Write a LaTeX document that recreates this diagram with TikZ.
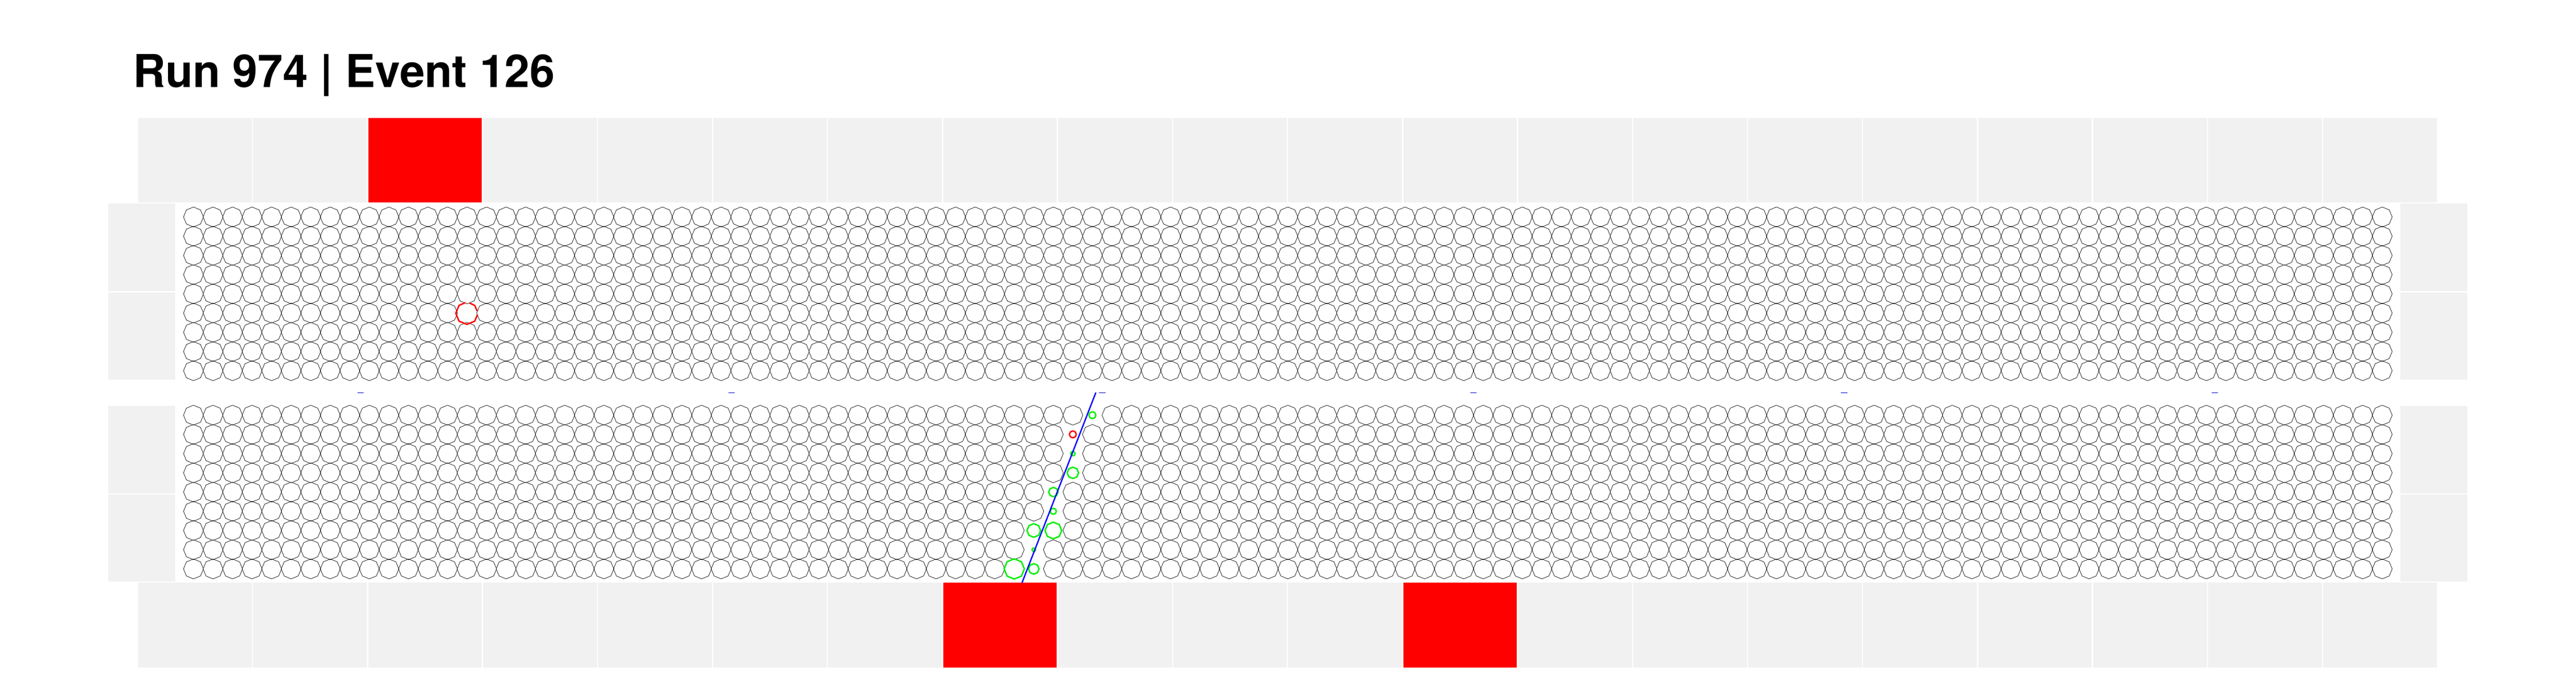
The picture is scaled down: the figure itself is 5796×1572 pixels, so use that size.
\documentclass[tikz,border=0pt]{standalone}
\usepackage{fontspec}
\setmainfont[FakeStretch=0.992]{TeX Gyre Heros}
\usepackage{xcolor}
\usepackage{tikz}
\definecolor{cellgrey}{HTML}{F1F1F1}
\definecolor{tickblue}{HTML}{0000CC}
\definecolor{litgreen}{HTML}{00F000}
\tikzset{
  ringline/.style={black, line width=0.85pt, line join=round},
  ringgreen/.style={color=litgreen, line width=3.2pt, line join=round},
  ringred/.style={red, line width=3.2pt, line join=round},
  cellfill/.style={fill=cellgrey},
  cellhit/.style={fill=red},
}
% one phototube ring: style, x, y, radius
\newcommand{\octring}[4][ringline]{%
  \draw[#1] (#2,#3) +(0:#4) -- +(45:#4) -- +(90:#4) -- +(135:#4)
    -- +(180:#4) -- +(225:#4) -- +(270:#4) -- +(315:#4) -- cycle;}
% one row of rings, leaving out two columns: y, skip, skip
\newcommand{\ringrow}[3]{%
  \foreach \col [evaluate=\col as \ringx using 435.3+43.97*\col] in {0,...,112}{%
    \ifnum\col=#2\relax\else\ifnum\col=#3\relax\else
      \octring{\ringx}{#1}{22.4}%
    \fi\fi}}

\begin{document}
\begin{tikzpicture}[x=1pt,y=-1pt]
  \useasboundingbox (0,0) rectangle (5796,1572);

  % Title
  \node[anchor=base west, inner sep=0pt] (title) at (299,196) {\fontsize{102}{102}\selectfont\bfseries Run 974 | Event 126};

  % Top and bottom rows of cells
  \foreach \i in {0,...,19} {
    \fill[cellfill] ({310.8+258.75*\i},266) rectangle ++(256,190);
    \fill[cellfill] ({310.8+258.75*\i},1311.5) rectangle ++(256,190.5);
  }
  \fill[cellhit] ({310.8+258.75*2},266) rectangle ++(256,190);
  \fill[cellhit] ({310.8+258.75*7},1311.5) rectangle ++(256,190.5);
  \fill[cellhit] ({310.8+258.75*11},1311.5) rectangle ++(256,190.5);

  % Side cells
  \foreach \x in {244,5401} {
    \fill[cellfill] (\x,458) rectangle ++(150,197);
    \fill[cellfill] (\x,658) rectangle ++(150,196);
    \fill[cellfill] (\x,913) rectangle ++(150,197);
    \fill[cellfill] (\x,1113) rectangle ++(150,196);
  }

  % Upper block of rings
  \foreach \row [evaluate=\row as \ringy using 488.3+43.25*\row] in {0,...,8} {
    \ifnum\row=5 \ringrow{\ringy}{14}{14}\else \ringrow{\ringy}{-1}{-1}\fi
  }

  % Lower block of rings, lit columns left out
  \foreach \row/\skipa/\skipb [evaluate=\row as \ringy using 934.3+43.25*\row]
      in {0/46/46,1/45/45,2/45/45,3/45/45,4/44/44,5/44/44,6/43/44,7/43/43,8/42/43} {
    \ringrow{\ringy}{\skipa}{\skipb}
  }

  % Lit rings
  \foreach \col/\row/\rad [evaluate=\col as \ringx using 435.3+43.97*\col,
      evaluate=\row as \ringy using 934.3+43.25*\row]
      in {46/0/7.8,45/2/5,45/3/12.8,44/4/10.5,44/5/6.8,43/6/15.3,44/6/18.8,43/7/3.8,42/8/22.8,43/8/11.8} {
    \octring[ringgreen]{\ringx}{\ringy}{\rad}
  }
  \octring[ringred]{2413.9}{977.5}{7.8}

  % Red ring in the upper block, broken where its neighbours cover it
  \draw[ringred] (1050.5,705) +(23.6,3.3) -- +(17.7,17.7) -- +(0,25) -- +(-17.7,17.7)
    -- +(-25,0) -- +(-17.7,-17.7) -- +(-3,-24.1);
  \draw[ringred] (1050.5,705) +(6,-23) -- +(17.7,-17.7) -- +(23,-5);

  % Small ticks between the blocks
  \foreach \x in {804,1639,2473,3308,4142,4976} {
    \draw[tickblue, line width=1pt] (\x,883.3) -- ++(14.5,0);
  }

  % Track
  \draw[blue, line width=3pt] (2299.5,1311.5) -- (2465.6,883.4);
\end{tikzpicture}
\end{document}
